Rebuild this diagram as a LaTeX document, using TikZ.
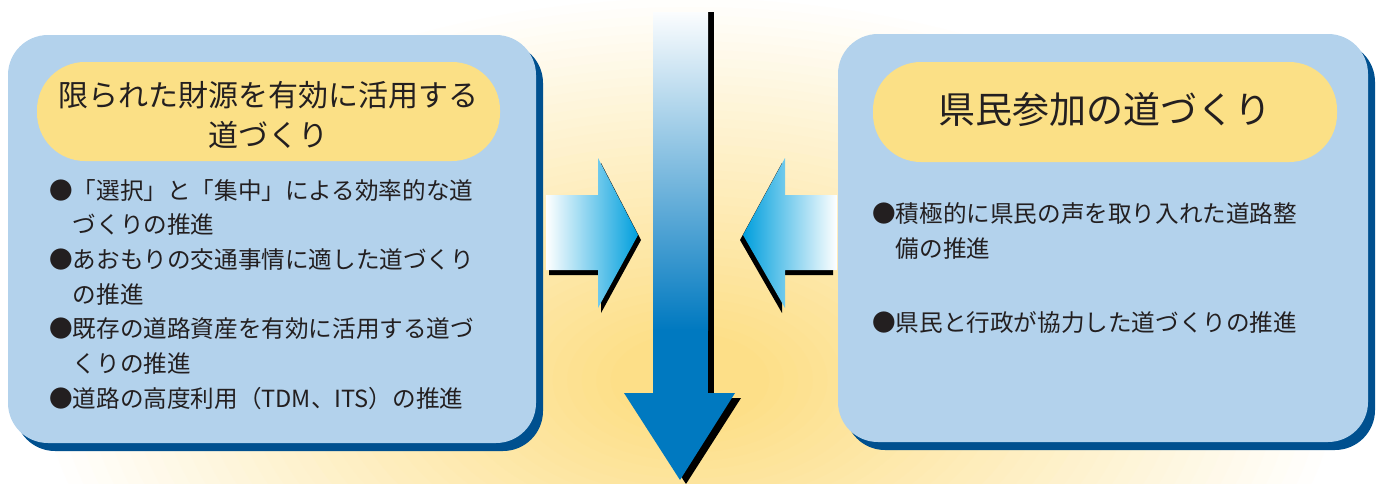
\documentclass[tikz,border=0pt]{standalone}
\usepackage{fontspec}
\setmainfont{Noto Sans CJK JP}
\definecolor{boxblue}{HTML}{B3D2EC}
\definecolor{shadowblue}{HTML}{00508F}
\definecolor{titleyellow}{HTML}{FBE086}
\definecolor{glow}{HTML}{FDDF88}
\definecolor{arrowblue}{HTML}{0079C0}
\definecolor{tipcyan}{HTML}{009FDD}
\definecolor{inkc}{HTML}{231F20}
\tikzset{
  panel/.style={fill=boxblue, rounded corners=40},
  panelshadow/.style={fill=shadowblue, rounded corners=40},
  titlebox/.style={fill=titleyellow, rounded corners=48},
  bullettext/.style={inner sep=0pt, text=inkc, align=left, font=\fontsize{23.6}{34.7}\selectfont},
  titletext/.style={inner sep=0pt, text=inkc, align=center},
}
\begin{document}
\begin{tikzpicture}[x=1pt,y=-1pt]
\useasboundingbox (0,0) rectangle (1381,483);
% background glow
\foreach \i in {0,...,40}{
  \pgfmathsetmacro\f{1-0.88*\i/40}
  \pgfmathsetmacro\p{\i*2.5}
  \fill[glow!\p!white] (690,380) ellipse [x radius=660*\f, y radius=390*\f];
}
% left panel
\fill[panelshadow] (15,43) rectangle (543,451);
\fill[panel] (8,35) rectangle (536,443);
\fill[titlebox] (37,62) rectangle (500,161);
\node[titletext, font=\fontsize{30}{40}\selectfont] (lt) at (268,115) {限られた財源を有効に活用する\\道づくり};
\node[bullettext, anchor=base west] (lb) at (49,407.2) {●「選択」と「集中」による効率的な道\\
\hspace*{1em}づくりの推進\\
●あおもりの交通事情に適した道づくり\\
\hspace*{1em}の推進\\
●既存の道路資産を有効に活用する道づ\\
\hspace*{1em}くりの推進\\
●道路の高度利用（TDM、ITS）の推進};
% right panel
\fill[panelshadow] (845,42) rectangle (1375,450);
\fill[panel] (838,34) rectangle (1368,442);
\fill[titlebox] (873,62) rectangle (1337,162);
\node[titletext, font=\fontsize{37}{44}\selectfont] (rt) at (1105,110) {県民参加の道づくり};
\node[bullettext, anchor=base west] (rb1) at (872,257) {●積極的に県民の声を取り入れた道路整\\
\hspace*{1em}備の推進};
\node[bullettext, anchor=base west] (rb2) at (872,331) {●県民と行政が協力した道づくりの推進};
% central arrow
\fill[black] (708,12) rectangle (714,398);
\fill[black] (630,398) -- (741,398) -- (686,484) -- cycle;
\shade[top color=white!95!boxblue, bottom color=arrowblue] (653,12) rectangle (708,330);
\fill[arrowblue] (653,329) rectangle (708,394);
\fill[arrowblue] (624,393) -- (735,393) -- (680,480) -- cycle;
\coordinate (ctip) at (680,480);
% left arrow
\fill[black] (549,200) -- (601,200) -- (601,163) -- (641,240) -- (601,313) -- (601,275) -- (549,275) -- cycle;
\shade[left color=white, right color=tipcyan] (546,195) -- (598,195) -- (598,158) -- (638,235) -- (598,308) -- (598,270) -- (546,270) -- cycle;
% right arrow
\fill[black] (833,200) -- (782,200) -- (782,163) -- (740,240) -- (782,313) -- (782,275) -- (833,275) -- cycle;
\shade[right color=white, left color=tipcyan] (837,195) -- (785,195) -- (785,158) -- (743,235) -- (785,308) -- (785,270) -- (837,270) -- cycle;
\end{tikzpicture}
\end{document}
